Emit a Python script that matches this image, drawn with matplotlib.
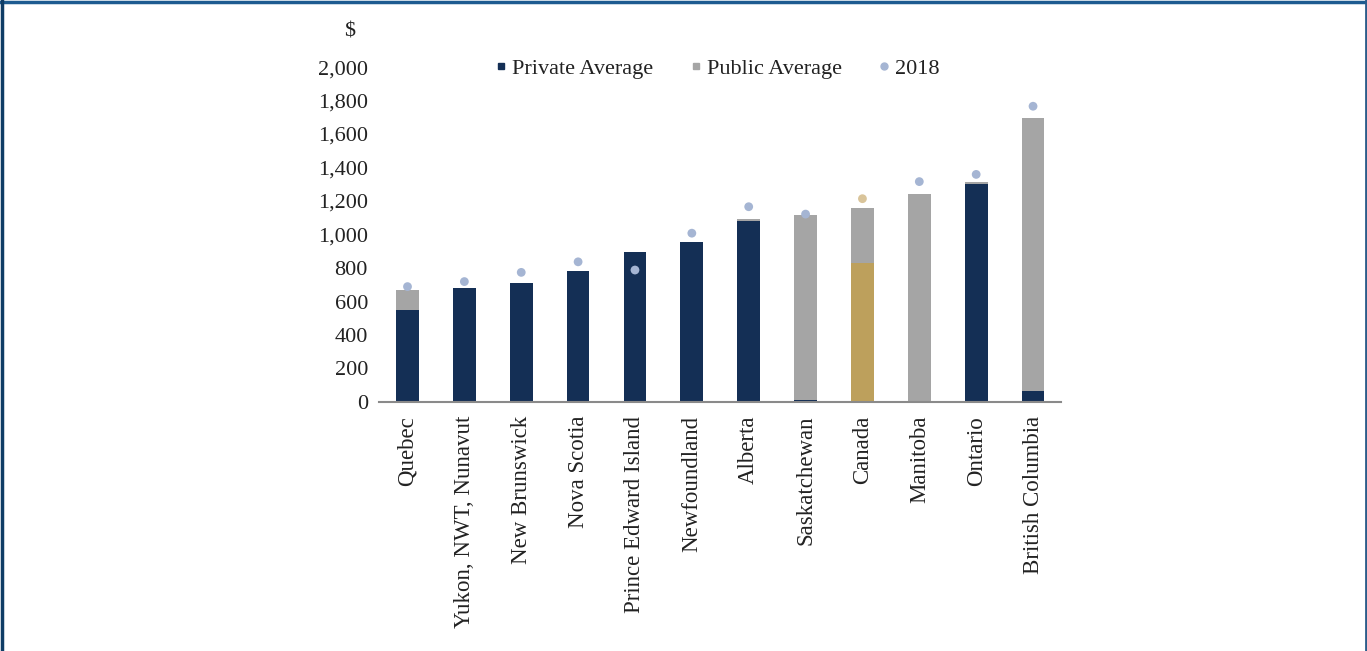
import matplotlib.pyplot as plt
from matplotlib.lines import Line2D
import numpy as np

# Data
provinces = ['Quebec', 'Yukon, NWT, Nunavut', 'New Brunswick', 'Nova Scotia',
             'Prince Edward Island', 'Newfoundland', 'Alberta', 'Saskatchewan',
             'Canada', 'Manitoba', 'Ontario', 'British Columbia']
private_avg = [547, 681, 709, 783, 896, 954, 1078, 12, 832, 0, 1303, 66]
public_avg = [124, 0, 0, 0, 0, 0, 16, 1104, 328, 1240, 13, 1629]
avg_2018 = [689, 719, 774, 837, 788, 1008, 1166, 1122, 1214, 1316, 1359, 1766]

navy = '#142f55'
grey = '#a5a5a5'
gold = '#bda05c'
dot = '#a5b5d3'
dot_gold = '#d9c49a'

plt.rcParams['font.family'] = ['Liberation Serif', 'DejaVu Serif']

fig = plt.figure(figsize=(13.67, 6.51), dpi=100)
ax = fig.add_axes([0.2773, 0.3825, 0.4992, 0.5145])

x = np.arange(len(provinces))
priv_colors = [gold if p == 'Canada' else navy for p in provinces]
dot_colors = [dot_gold if p == 'Canada' else dot for p in provinces]

ax.bar(x, private_avg, width=0.4, color=priv_colors, zorder=2)
ax.bar(x, public_avg, width=0.4, bottom=private_avg, color=grey, zorder=2)
ax.scatter(x, avg_2018, s=40, color=dot_colors, zorder=3, linewidths=0)

ax.set_xlim(-0.5, len(provinces) - 0.5)
ax.set_ylim(0, 2000)
ax.set_yticks(range(0, 2001, 200))
ax.set_yticklabels([f'{v:,}' for v in range(0, 2001, 200)], fontsize=16, color='#222222')
ax.set_xticks(x)
ax.set_xticklabels(provinces, rotation=90, fontsize=16.5, color='#222222')
ax.tick_params(axis='both', length=0)
ax.tick_params(axis='x', pad=10)
ax.tick_params(axis='y', pad=8)

for s in ['top', 'right', 'left']:
    ax.spines[s].set_visible(False)
ax.spines['bottom'].set_color('#8a8a8a')
ax.spines['bottom'].set_linewidth(1.5)

fig.text(350 / 1367, 1 - 32 / 651, '$', fontsize=16, ha='center', va='center', color='#222222')

handles = [
    Line2D([], [], marker='s', linestyle='none', color=navy, markersize=5),
    Line2D([], [], marker='s', linestyle='none', color=grey, markersize=5),
    Line2D([], [], marker='o', linestyle='none', color=dot, markersize=5),
]
fig.legend(handles, ['Private Average', 'Public Average', '2018'], ncol=3,
           loc='center', bbox_to_anchor=(716 / 1367, 1 - 69 / 651), frameon=False,
           fontsize=16, handletextpad=0.1, columnspacing=1.5, handlelength=0.8,
           labelcolor='#222222')

# page frame
fig.add_artist(Line2D([0, 1], [1 - 1.5 / 651, 1 - 1.5 / 651], color='#1d5b90', lw=2.5))
fig.add_artist(Line2D([1.5 / 1367, 1.5 / 1367], [0, 1], color='#0f3d66', lw=2.5))
fig.add_artist(Line2D([1 - 1.5 / 1367, 1 - 1.5 / 1367], [0, 1], color='#2b5c8a', lw=2))

fig.savefig('out.png', dpi=100)
